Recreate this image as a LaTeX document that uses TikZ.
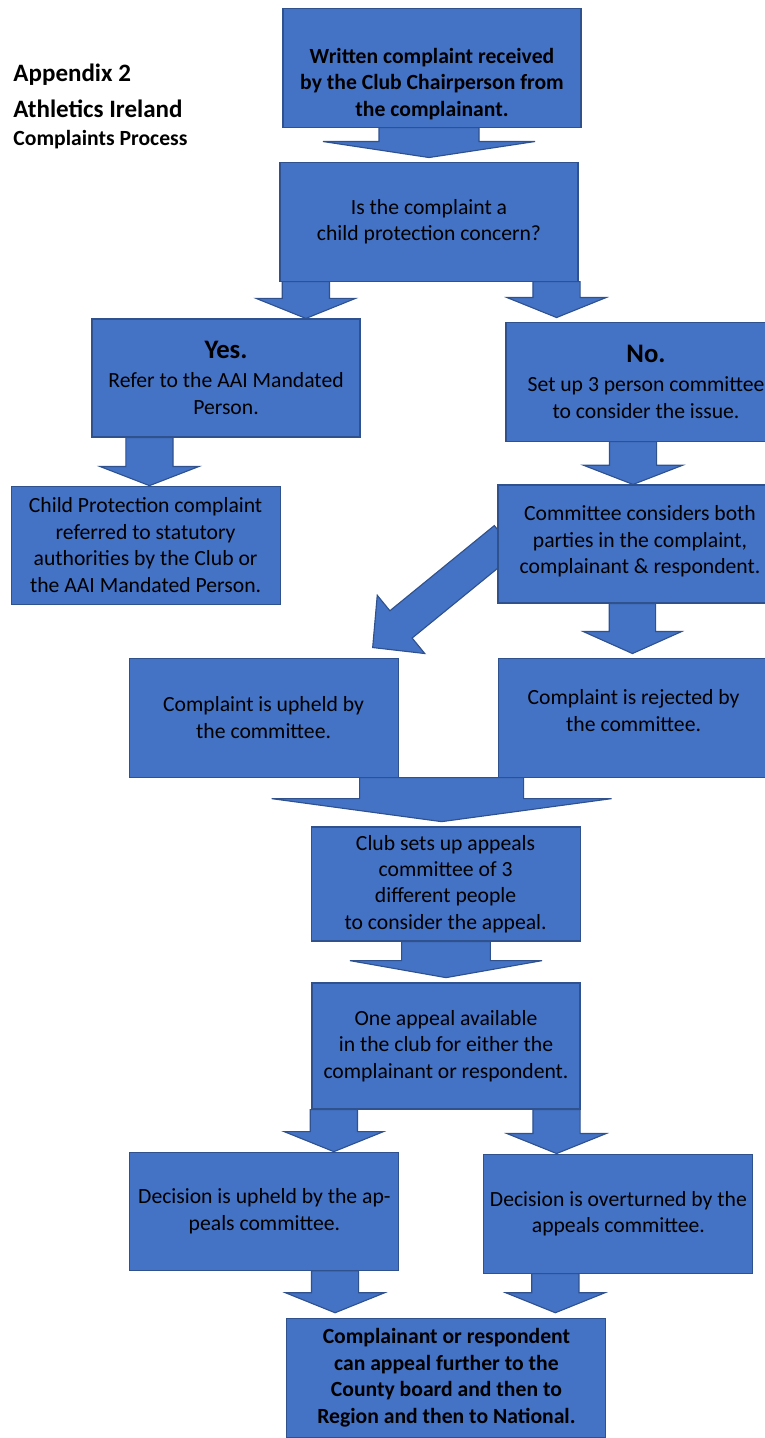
\documentclass[tikz,border=0pt]{standalone}
\usepackage{fontspec}
\setmainfont{Carlito}
\usepackage{tikz}
\usetikzlibrary{calc,backgrounds}

\definecolor{boxfill}{HTML}{4472C4}
\definecolor{boxline}{HTML}{2F528F}
\newcommand{\bodyfont}{\fontsize{15.4}{18.8}\selectfont}
\newcommand{\bigfont}{\fontsize{19}{22}\selectfont\bfseries}

\tikzset{
  shaft half/.store in=\shafthalf,
  head half/.store in=\headhalf,
  head len/.store in=\headlen,
  shaft half=0.59cm, head half=1.24cm, head len=0.5cm,
  blockarrow/.style={draw=boxline, fill=boxfill, line width=0.8pt,
    to path={let \p1=(\tikztostart), \p2=(\tikztotarget),
      \n1={atan2(\y2-\y1,\x2-\x1)}, \n2={veclen(\x2-\x1,\y2-\y1)} in
      ($(\p1)+(\n1+90:\shafthalf)$)
      -- ($(\p1)+(\n1:\n2-\headlen)+(\n1+90:\shafthalf)$)
      -- ($(\p1)+(\n1:\n2-\headlen)+(\n1+90:\headhalf)$)
      -- (\p2)
      -- ($(\p1)+(\n1:\n2-\headlen)+(\n1-90:\headhalf)$)
      -- ($(\p1)+(\n1:\n2-\headlen)+(\n1-90:\shafthalf)$)
      -- ($(\p1)+(\n1-90:\shafthalf)$) -- cycle}},
  box/.style={draw=boxline, fill=boxfill, line width=0.8pt, align=center,
    inner sep=2pt, text=black, font=\bodyfont,
    minimum width=6.725cm, minimum height=2.95cm},
  title/.style={anchor=base west, inner sep=0pt, font=\fontsize{17.8}{21}\selectfont\bfseries},
}

\begin{document}
\begin{tikzpicture}
  \useasboundingbox (0,0) rectangle (19.1,-35.95);

  % heading
  \node[title] (appx) at (0.33,-2.05) {Appendix 2};
  \node[title] (ai) at (0.33,-2.95) {Athletics Ireland};
  \node[title, font=\fontsize{15.4}{18}\selectfont\bfseries] (proc) at (0.33,-3.63) {Complaints Process};

  % boxes
  \node[box, minimum width=7.45cm, minimum height=2.975cm, font=\bodyfont\bfseries] (recv) at (10.8,-1.69)
    {\mbox{}\\[15pt]Written complaint received\\by the Club Chairperson from\\the complainant.};
  \node[box, minimum width=7.45cm, minimum height=2.975cm] (ques) at (10.725,-5.54)
    {Is the complaint a\\child protection concern?};
  \node[box, minimum width=6.7cm] (yes) at (5.65,-9.45)
    {{\bigfont Yes.}\\[2pt]Refer to the AAI Mandated\\Person.};
  \node[box, minimum width=7cm, minimum height=2.975cm] (no) at (16.15,-9.54)
    {{\bigfont No.}\\[2pt]Set up 3 person committee\\to consider the issue.};
  \node[box] (cp) at (3.64,-13.63)
    {Child Protection complaint\\referred to statutory\\authorities by the Club or\\the AAI Mandated Person.};
  \node[box, minimum width=7.1cm] (comm) at (16,-13.6)
    {Committee considers both\\parties in the complaint,\\complainant \& respondent.\\[-12.8pt]\mbox{}};
  \node[box, minimum height=2.975cm] (upheld) at (6.59,-17.94)
    {Complaint is upheld by\\the committee.};
  \node[box, minimum width=6.775cm, minimum height=2.975cm] (reject) at (15.84,-17.94)
    {Complaint is rejected by\\the committee.\\[-8.8pt]\mbox{}};
  \node[box, minimum height=2.85cm] (appeals) at (11.14,-22.1)
    {Club sets up appeals\\committee of 3\\different people\\to consider the appeal.};
  \node[box, minimum width=6.7cm, minimum height=3.15cm] (one) at (11.15,-26.15)
    {One appeal available\\in the club for either the\\complainant or respondent.};
  \node[box] (decup) at (6.61,-30.28)
    {Decision is upheld by the ap-\\peals committee.};
  \node[box, minimum height=2.975cm] (decover) at (15.46,-30.34)
    {Decision is overturned by the\\appeals committee.};
  \node[box, minimum width=7.975cm, minimum height=2.975cm, font=\bodyfont\bfseries] (further) at (11.16,-34.44)
    {Complainant or respondent\\can appeal further to the\\County board and then to\\Region and then to National.};

  % block arrows
  \begin{scope}[on background layer]
    \draw[blockarrow, shaft half=1.25cm, head half=2.65cm, head len=0.4cm]
      (ques.north |- recv.south) to ([yshift=0.1cm]ques.north);
    \draw[blockarrow] ([xshift=0.66cm]ques.south west) to ([xshift=0.66cm]ques.south west |- yes.north);
    \draw[blockarrow] ([xshift=-0.55cm]ques.south east) to ([xshift=-0.55cm,yshift=0.1cm]ques.south east |- no.north);
    \draw[blockarrow, head len=0.48cm] ([xshift=1.45cm]yes.south west) to ([xshift=1.45cm]yes.south west |- cp.north);
    \draw[blockarrow, head len=0.48cm] ([xshift=3.19cm]no.south west) to ([xshift=3.19cm]no.south west |- comm.north);
    \draw[blockarrow, shaft half=0.44cm, head half=0.94cm, head len=0.9cm]
      ([shift={(0.2,0.12)}]comm.west) to ([shift={(-0.65,0.25)}]upheld.north east);
    \draw[blockarrow, shaft half=0.58cm, head half=1.23cm, head len=0.55cm]
      ([xshift=3.375cm]comm.south west) to ([xshift=3.375cm,yshift=0.1cm]comm.south west |- reject.north);
    \draw[blockarrow, shaft half=2.05cm, head half=4.25cm, head len=0.575cm]
      ([xshift=-0.1cm]appeals.north |- upheld.south) to ([xshift=-0.1cm,yshift=0.12cm]appeals.north);
    \draw[blockarrow, shaft half=1.11cm, head half=2.4cm, head len=0.425cm]
      (one.north |- appeals.south) to ([yshift=0.12cm]one.north);
    \draw[blockarrow] ([xshift=0.56cm]one.south west) to ([xshift=0.56cm]one.south west |- decup.north);
    \draw[blockarrow] ([xshift=-0.6cm]one.south east) to ([xshift=-0.6cm]one.south east |- decover.north);
    \draw[blockarrow] ([xshift=-1.61cm]decup.south east) to ([xshift=-1.61cm,yshift=0.12cm]decup.south east |- further.north);
    \draw[blockarrow] ([xshift=1.8cm]decover.south west) to ([xshift=1.8cm,yshift=0.12cm]decover.south west |- further.north);
  \end{scope}
\end{tikzpicture}
\end{document}
